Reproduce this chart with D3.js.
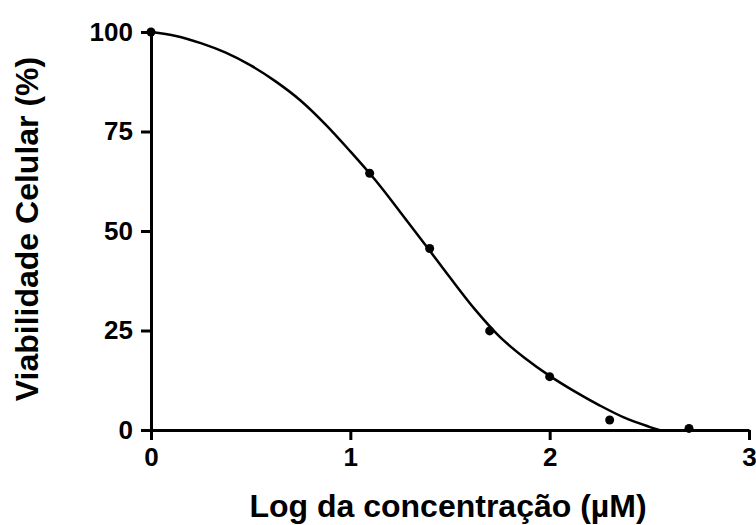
<!DOCTYPE html>
<html lang="pt">
  <head>
    <meta charset="UTF-8" />
    <title>Viabilidade Celular</title>
    <style>
      body { margin: 0; background: #fff; }
      text { font-family: "Liberation Sans", Arial, sans-serif; font-weight: bold; fill: #000; }
    </style>
  </head>
  <body>
    <div id="chart"></div>

    <script src="https://d3js.org/d3.v7.min.js"></script>

    <script>
      // measured points (log of concentration in uM, viability %)
      const logConc = [0, 1.097, 1.398, 1.699, 2.0, 2.301, 2.699];
      const viability = [100, 64.5, 45.6, 24.9, 13.4, 2.5, 0.4];

      // fitted curve
      const curveX = [0, 0.125, 0.25, 0.375, 0.5, 0.625, 0.75, 0.875, 1.0, 1.125, 1.25, 1.375,
                      1.5, 1.625, 1.75, 1.875, 2.0, 2.125, 2.25, 2.375, 2.5, 2.55];
      const curveY = [100, 99.0, 97.2, 94.8, 91.6, 87.6, 82.8, 76.8, 70.0, 62.8, 54.8, 46.6,
                      38.3, 30.3, 23.4, 18.1, 13.6, 9.7, 6.2, 3.1, 0.8, 0];

      const xTicks = [0, 1, 2, 3];
      const yTicks = [0, 25, 50, 75, 100];

      const width = 756;
      const height = 525;

      const svg = d3.select("#chart").append("svg")
          .attr("width", width)
          .attr("height", height)
          .attr("viewBox", [0, 0, width, height]);

      const x = d3.scaleLinear([0, 3], [151, 749]);
      const y = d3.scaleLinear([0, 100], [430, 32]);

      const xAxis = d3.axisBottom(x).tickValues(xTicks).tickFormat(d3.format("d"))
          .tickSize(10).tickPadding(8).tickSizeOuter(0);
      const yAxis = d3.axisLeft(y).tickValues(yTicks).tickFormat(d3.format("d"))
          .tickSize(10).tickPadding(8).tickSizeOuter(0);

      const styleAxis = g => {
        g.select(".domain").attr("stroke", "#000").attr("stroke-width", 3);
        g.selectAll(".tick line").attr("stroke", "#000").attr("stroke-width", 3);
        g.selectAll(".tick text")
          .attr("fill", "#000")
          .style("font-family", '"Liberation Sans", Arial, sans-serif')
          .style("font-weight", "bold")
          .style("font-size", "26px");
      };

      svg.append("g")
          .attr("transform", `translate(0,${y(0)})`)
          .call(xAxis)
          .call(styleAxis);

      svg.append("g")
          .attr("transform", `translate(${x(0)},0)`)
          .call(yAxis)
          .call(styleAxis);

      const fit = d3.line()
          .x((d, i) => x(curveX[i]))
          .y(d => y(d))
          .curve(d3.curveCatmullRom);

      svg.append("path")
          .attr("d", fit(curveY))
          .attr("fill", "none")
          .attr("stroke", "#000")
          .attr("stroke-width", 2.5);

      svg.append("g")
        .selectAll("circle")
        .data(viability)
        .join("circle")
          .attr("cx", (d, i) => x(logConc[i]))
          .attr("cy", d => y(d))
          .attr("r", 4.5)
          .attr("fill", "#000");

      svg.append("text")
          .attr("x", 448)
          .attr("y", 517)
          .attr("text-anchor", "middle")
          .style("font-size", "32px")
          .text("Log da concentração (µM)");

      svg.append("text")
          .attr("transform", "translate(38,229) rotate(-90)")
          .attr("text-anchor", "middle")
          .style("font-size", "32px")
          .text("Viabilidade Celular (%)");
    </script>
  </body>
</html>
